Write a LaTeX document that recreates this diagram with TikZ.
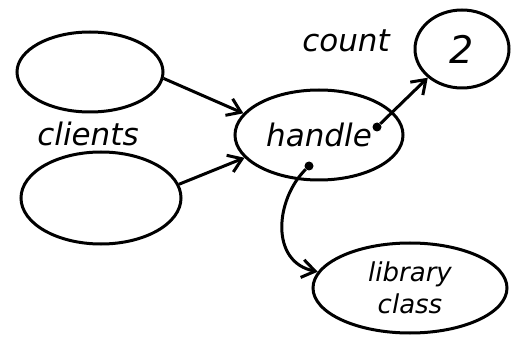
\documentclass[tikz,border=0pt]{standalone}
\usepackage{fontspec}
\setmainfont{DejaVu Sans}
\usetikzlibrary{shapes.geometric,arrows.meta}
\tikzset{
  blob/.style={draw, ellipse, line width=3pt, inner sep=0pt},
  hand/.style={font=\fontsize{31}{34}\selectfont\itshape},
  link/.style={line width=3pt, -{Straight Barb[length=13pt,width=18pt,line width=3pt]}},
  dot/.style={fill, circle, inner sep=0pt, minimum size=9pt}
}
\begin{document}
\begin{tikzpicture}[x=1pt,y=-1pt]
  \useasboundingbox (0,0) rectangle (514,339);
  % client ellipses
  \node[blob, minimum width=146pt, minimum height=80pt] (c1) at (90,72) {};
  \node[blob, minimum width=160pt, minimum height=92pt] (c2) at (101,198) {};
  \node[hand] (clients) at (88,134) {clients};
  % handle and its targets
  \node[blob, minimum width=168pt, minimum height=90pt, hand] (handle) at (319,135) {handle};
  \node[blob, minimum width=94pt, minimum height=78pt, hand,
        font=\fontsize{38}{40}\selectfont\itshape] (count) at (462,49) {2};
  \node[hand] (countlbl) at (346,41) {count};
  \node[blob, minimum width=194pt, minimum height=90pt, align=center,
        font=\fontsize{26}{32}\selectfont\itshape] (lib) at (410,288) {library\\class};
  % pointer origins inside the handle
  \node[dot] (p1) at (377,127) {};
  \node[dot] (p2) at (309,166) {};
  % connectors
  \draw[link] (c1.-5) -- (handle.164);
  \draw[link] (c2.10) -- (handle.197);
  \draw[link] (p1) -- (count.220);
  \draw[link] (p2) .. controls (275,200) and (270,262) .. (lib.170);
\end{tikzpicture}
\end{document}
